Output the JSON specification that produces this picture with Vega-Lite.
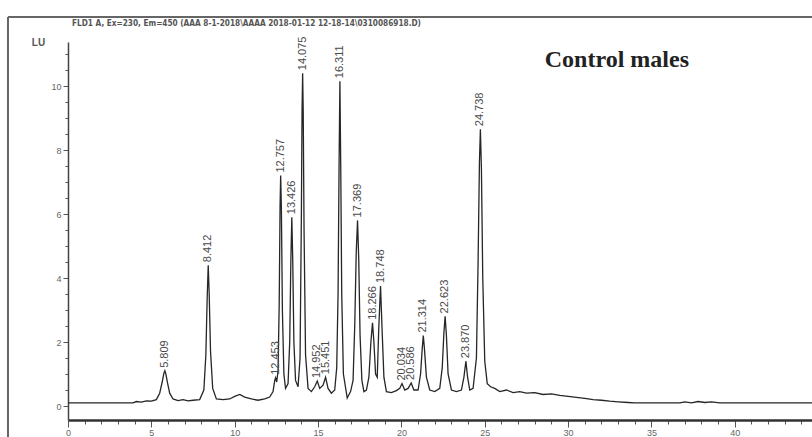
{
  "$schema": "https://vega.github.io/schema/vega-lite/v6.json",
  "width": 748,
  "height": 378,
  "autosize": {"type": "none"},
  "padding": {"left": 68, "top": 42, "right": 0, "bottom": 17},
  "background": "white",
  "config": {"view": {"stroke": null}, "font": "Liberation Sans"},
  "title": {
    "text": "FLD1 A, Ex=230, Em=450 (AAA 8-1-2018\\AAAA 2018-01-12 12-18-14\\0310086918.D)",
    "anchor": "start",
    "frame": "group",
    "offset": -12,
    "dx": 4,
    "fontSize": 8.2,
    "font": "DejaVu Sans Condensed, Liberation Sans Narrow, sans-serif",
    "fontWeight": "bold",
    "color": "#555"
  },
  "datasets": {
    "trace": [
      {"t": 0, "v": 0.1}, {"t": 3.9, "v": 0.1}, {"t": 4.1, "v": 0.14}, {"t": 4.4, "v": 0.12},
      {"t": 4.7, "v": 0.16}, {"t": 5.0, "v": 0.15}, {"t": 5.3, "v": 0.2}, {"t": 5.5, "v": 0.4},
      {"t": 5.65, "v": 0.75}, {"t": 5.75, "v": 1.02}, {"t": 5.809, "v": 1.1}, {"t": 5.87, "v": 1.0},
      {"t": 5.97, "v": 0.72}, {"t": 6.1, "v": 0.4}, {"t": 6.3, "v": 0.22}, {"t": 6.6, "v": 0.17},
      {"t": 6.9, "v": 0.2}, {"t": 7.2, "v": 0.16}, {"t": 7.5, "v": 0.18}, {"t": 7.9, "v": 0.2},
      {"t": 8.15, "v": 0.5}, {"t": 8.27, "v": 1.6}, {"t": 8.35, "v": 3.4}, {"t": 8.412, "v": 4.4},
      {"t": 8.47, "v": 3.5}, {"t": 8.55, "v": 1.7}, {"t": 8.68, "v": 0.55}, {"t": 8.9, "v": 0.22},
      {"t": 9.3, "v": 0.2}, {"t": 9.7, "v": 0.22}, {"t": 10.0, "v": 0.3}, {"t": 10.3, "v": 0.36},
      {"t": 10.6, "v": 0.28}, {"t": 11.0, "v": 0.22}, {"t": 11.4, "v": 0.18}, {"t": 11.8, "v": 0.22},
      {"t": 12.1, "v": 0.28}, {"t": 12.3, "v": 0.45}, {"t": 12.4, "v": 0.8}, {"t": 12.453, "v": 0.88},
      {"t": 12.52, "v": 0.75}, {"t": 12.6, "v": 1.1}, {"t": 12.67, "v": 3.2}, {"t": 12.72, "v": 6.2},
      {"t": 12.757, "v": 7.2}, {"t": 12.8, "v": 6.2}, {"t": 12.86, "v": 3.0}, {"t": 12.95, "v": 1.0},
      {"t": 13.05, "v": 0.55}, {"t": 13.2, "v": 0.7}, {"t": 13.3, "v": 2.0}, {"t": 13.37, "v": 4.6},
      {"t": 13.426, "v": 5.9}, {"t": 13.48, "v": 4.6}, {"t": 13.55, "v": 2.0}, {"t": 13.65, "v": 0.8},
      {"t": 13.8, "v": 0.6}, {"t": 13.92, "v": 1.5}, {"t": 14.0, "v": 6.0}, {"t": 14.04, "v": 9.2},
      {"t": 14.075, "v": 10.4}, {"t": 14.11, "v": 9.2}, {"t": 14.16, "v": 5.5}, {"t": 14.25, "v": 1.6},
      {"t": 14.4, "v": 0.55}, {"t": 14.6, "v": 0.45}, {"t": 14.8, "v": 0.6}, {"t": 14.952, "v": 0.78},
      {"t": 15.1, "v": 0.55}, {"t": 15.3, "v": 0.65}, {"t": 15.451, "v": 0.9}, {"t": 15.6, "v": 0.55},
      {"t": 15.8, "v": 0.4}, {"t": 16.0, "v": 0.5}, {"t": 16.12, "v": 1.2}, {"t": 16.2, "v": 3.5},
      {"t": 16.26, "v": 7.5}, {"t": 16.311, "v": 10.15}, {"t": 16.36, "v": 7.5}, {"t": 16.42, "v": 3.5},
      {"t": 16.52, "v": 1.0}, {"t": 16.75, "v": 0.25}, {"t": 16.95, "v": 0.45}, {"t": 17.1, "v": 0.8},
      {"t": 17.2, "v": 2.5}, {"t": 17.29, "v": 4.8}, {"t": 17.369, "v": 5.8}, {"t": 17.44, "v": 4.6},
      {"t": 17.52, "v": 2.2}, {"t": 17.63, "v": 0.8}, {"t": 17.75, "v": 0.45}, {"t": 17.9, "v": 0.5},
      {"t": 18.05, "v": 0.9}, {"t": 18.17, "v": 2.0}, {"t": 18.266, "v": 2.6}, {"t": 18.35, "v": 2.0},
      {"t": 18.45, "v": 1.0}, {"t": 18.55, "v": 0.9}, {"t": 18.64, "v": 2.4}, {"t": 18.748, "v": 3.75},
      {"t": 18.84, "v": 2.4}, {"t": 18.95, "v": 0.9}, {"t": 19.1, "v": 0.45}, {"t": 19.4, "v": 0.42},
      {"t": 19.7, "v": 0.48}, {"t": 19.9, "v": 0.55}, {"t": 20.034, "v": 0.7}, {"t": 20.2, "v": 0.5},
      {"t": 20.4, "v": 0.55}, {"t": 20.586, "v": 0.72}, {"t": 20.75, "v": 0.5}, {"t": 21.0, "v": 0.5},
      {"t": 21.15, "v": 1.0}, {"t": 21.25, "v": 1.8}, {"t": 21.314, "v": 2.2}, {"t": 21.38, "v": 1.8},
      {"t": 21.5, "v": 0.9}, {"t": 21.7, "v": 0.5}, {"t": 22.0, "v": 0.45}, {"t": 22.3, "v": 0.55},
      {"t": 22.45, "v": 1.2}, {"t": 22.55, "v": 2.3}, {"t": 22.623, "v": 2.8}, {"t": 22.7, "v": 2.2},
      {"t": 22.8, "v": 1.0}, {"t": 23.0, "v": 0.5}, {"t": 23.3, "v": 0.45}, {"t": 23.6, "v": 0.5},
      {"t": 23.75, "v": 0.9}, {"t": 23.87, "v": 1.4}, {"t": 23.97, "v": 0.9}, {"t": 24.1, "v": 0.5},
      {"t": 24.3, "v": 0.55}, {"t": 24.5, "v": 1.5}, {"t": 24.6, "v": 4.5}, {"t": 24.68, "v": 7.6},
      {"t": 24.738, "v": 8.65}, {"t": 24.8, "v": 7.4}, {"t": 24.88, "v": 4.0}, {"t": 25.0, "v": 1.4},
      {"t": 25.15, "v": 0.7}, {"t": 25.35, "v": 0.6}, {"t": 25.6, "v": 0.55}, {"t": 25.9, "v": 0.45},
      {"t": 26.3, "v": 0.5}, {"t": 26.7, "v": 0.42}, {"t": 27.1, "v": 0.45}, {"t": 27.5, "v": 0.4},
      {"t": 28.0, "v": 0.42}, {"t": 28.5, "v": 0.36}, {"t": 29.0, "v": 0.38}, {"t": 29.5, "v": 0.33},
      {"t": 30.0, "v": 0.3}, {"t": 30.5, "v": 0.27}, {"t": 31.0, "v": 0.24}, {"t": 31.5, "v": 0.2},
      {"t": 32.0, "v": 0.18}, {"t": 32.5, "v": 0.15}, {"t": 33.0, "v": 0.13}, {"t": 33.6, "v": 0.11},
      {"t": 34.0, "v": 0.1}, {"t": 36.7, "v": 0.1}, {"t": 37.0, "v": 0.13}, {"t": 37.4, "v": 0.1},
      {"t": 37.8, "v": 0.14}, {"t": 38.2, "v": 0.11}, {"t": 38.6, "v": 0.13}, {"t": 39.1, "v": 0.1},
      {"t": 44.87, "v": 0.1}
    ],
    "peaks": [
      {"t": 5.809, "v": 1.1, "label": "5.809"},
      {"t": 8.412, "v": 4.4, "label": "8.412"},
      {"t": 12.453, "v": 0.88, "label": "12.453"},
      {"t": 12.757, "v": 7.2, "label": "12.757"},
      {"t": 13.426, "v": 5.9, "label": "13.426"},
      {"t": 14.075, "v": 10.4, "label": "14.075"},
      {"t": 14.952, "v": 0.78, "label": "14.952"},
      {"t": 15.451, "v": 0.9, "label": "15.451"},
      {"t": 16.311, "v": 10.15, "label": "16.311"},
      {"t": 17.369, "v": 5.8, "label": "17.369"},
      {"t": 18.266, "v": 2.6, "label": "18.266"},
      {"t": 18.748, "v": 3.75, "label": "18.748"},
      {"t": 20.034, "v": 0.7, "label": "20.034"},
      {"t": 20.586, "v": 0.72, "label": "20.586"},
      {"t": 21.314, "v": 2.2, "label": "21.314"},
      {"t": 22.623, "v": 2.8, "label": "22.623"},
      {"t": 23.87, "v": 1.4, "label": "23.870"},
      {"t": 24.738, "v": 8.65, "label": "24.738"}
    ],
    "note": [
      {"t": 28.6, "v": 10.6, "label": "Control males"}
    ],
    "vframe": [
      {"t": -3.6, "v": 12.16, "v2": -1.0}
    ],
    "hframe": [
      {"t": -3.6, "t2": 44.87, "v": 12.16}
    ]
  },
  "encoding": {
    "x": {
      "field": "t",
      "type": "quantitative",
      "scale": {"domain": [0, 44.87], "nice": false, "zero": false},
      "axis": {
        "values": [0,1,2,3,4,5,6,7,8,9,10,11,12,13,14,15,16,17,18,19,20,21,22,23,24,25,26,27,28,29,30,31,32,33,34,35,36,37,38,39,40,41,42,43,44],
        "title": null,
        "grid": false,
        "labelExpr": "datum.value % 5 === 0 ? '' + datum.value : ''",
        "domainColor": "#333",
        "domainWidth": 2.5,
        "tickColor": "#555",
        "tickWidth": 1,
        "tickSize": {"condition": {"test": "datum.value % 5 === 0", "value": 7}, "value": 4},
        "labelFontSize": 9,
        "labelColor": "#666",
        "labelPadding": 1,
        "labelFlush": false,
        "labelOverlap": false
      }
    },
    "y": {
      "field": "v",
      "type": "quantitative",
      "scale": {"domain": [-0.4375, 11.375], "nice": false, "zero": false},
      "axis": {
        "values": [0,0.5,1,1.5,2,2.5,3,3.5,4,4.5,5,5.5,6,6.5,7,7.5,8,8.5,9,9.5,10,10.5,11],
        "grid": false,
        "labelExpr": "datum.value % 2 === 0 ? '' + datum.value : ''",
        "domainColor": "#444",
        "domainWidth": 1.5,
        "tickColor": "#555",
        "tickSize": {"condition": {"test": "datum.value % 2 === 0", "value": 5}, "value": 3},
        "labelFontSize": 9,
        "labelColor": "#666",
        "labelPadding": 2,
        "labelOverlap": false,
        "title": "LU",
        "titleAngle": 0,
        "titleX": -30,
        "titleY": 0,
        "titleAlign": "center",
        "titleBaseline": "middle",
        "titleFontSize": 10,
        "titleFontWeight": "bold",
        "titleColor": "#555"
      }
    }
  },
  "layer": [
    {
      "data": {"name": "trace"},
      "mark": {"type": "line", "color": "#262626", "strokeWidth": 1.3},
      "encoding": {}
    },
    {
      "data": {"name": "peaks"},
      "mark": {"type": "text", "angle": 270, "align": "left", "baseline": "middle", "dx": 3, "fontSize": 11, "color": "#4a4a4a", "font": "Liberation Sans"},
      "encoding": {"text": {"field": "label", "type": "nominal"}}
    },
    {
      "data": {"name": "note"},
      "mark": {"type": "text", "align": "left", "baseline": "alphabetic", "fontSize": 24, "fontWeight": "bold", "font": "Liberation Serif", "color": "#222"},
      "encoding": {"text": {"field": "label", "type": "nominal"}}
    },
    {
      "data": {"name": "vframe"},
      "mark": {"type": "rule", "color": "#666", "strokeWidth": 2, "clip": false},
      "encoding": {"y2": {"field": "v2"}}
    },
    {
      "data": {"name": "hframe"},
      "mark": {"type": "rule", "color": "#666", "strokeWidth": 2, "clip": false},
      "encoding": {"x2": {"field": "t2"}}
    }
  ]
}
